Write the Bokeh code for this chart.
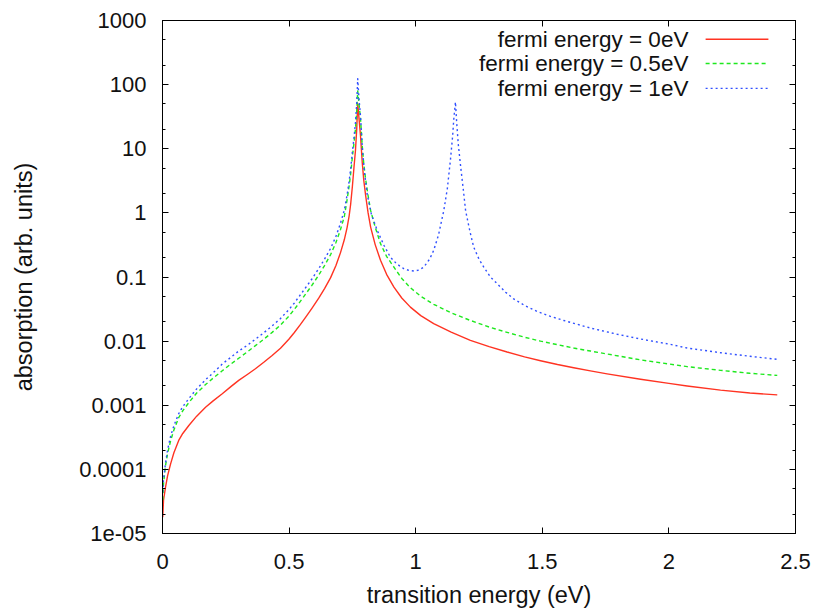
from bokeh.plotting import figure
from bokeh.models import Range1d, FixedTicker, LinearAxis, LogAxis, Label, Arrow
from bokeh.embed import file_html
from bokeh.resources import INLINE

# ---------------- data ----------------
x_ticks = [0, 0.5, 1, 1.5, 2, 2.5]
x_tick_labels = ["0", "0.5", "1", "1.5", "2", "2.5"]
y_ticks = [1e-05, 1e-04, 1e-03, 1e-02, 1e-01, 1, 10, 100, 1000]
y_tick_labels = ["1e-05", "0.0001", "0.001", "0.01", "0.1", "1", "10", "100", "1000"]
y_minor = [m * t for t in y_ticks[:-1] for m in (2, 5)]

legend_labels = ["fermi energy = 0eV", "fermi energy = 0.5eV", "fermi energy = 1eV"]

# rising branch (common x positions for all three curves)
x_rise = [0.001, 0.004, 0.012, 0.020, 0.032, 0.045, 0.064, 0.080, 0.104, 0.135,
          0.170, 0.200, 0.236, 0.270, 0.301, 0.335, 0.367, 0.400, 0.433, 0.466,
          0.499, 0.520, 0.545, 0.565, 0.590, 0.617, 0.640, 0.664, 0.685, 0.703,
          0.718, 0.729, 0.737, 0.743, 0.750, 0.756, 0.762, 0.767, 0.771]
y_rise_ef0 = [1.8e-05, 3.3e-05, 5.3e-05, 7.9e-05, 1.22e-04, 1.82e-04, 2.83e-04, 3.63e-04, 4.84e-04, 6.76e-04,
              9.33e-04, 1.17e-03, 1.51e-03, 1.95e-03, 2.44e-03, 3.02e-03, 3.71e-03, 4.68e-03, 5.98e-03, 7.76e-03,
              0.0107, 0.0135, 0.0182, 0.0234, 0.0324, 0.0468, 0.066, 0.0977, 0.151, 0.24,
              0.38, 0.59, 0.89, 1.35, 2.6, 5.0, 9.3, 20.0, 50.6]
y_rise_ef05 = [3.3e-05, 6.0e-05, 1.15e-04, 1.75e-04, 2.8e-04, 4.1e-04, 6.4e-04, 8.2e-04, 1.1e-03, 1.55e-03,
               2.1e-03, 2.65e-03, 3.45e-03, 4.4e-03, 5.4e-03, 6.8e-03, 8.5e-03, 0.0107, 0.0137, 0.0178,
               0.0245, 0.031, 0.042, 0.054, 0.074, 0.107, 0.151, 0.224, 0.345, 0.55,
               0.87, 1.6, 2.6, 4.0, 7.5, 12.0, 20.0, 38.0, 80.0]
y_rise_ef1 = [4.4e-05, 7.0e-05, 1.25e-04, 2.0e-04, 3.3e-04, 4.8e-04, 7.4e-04, 9.5e-04, 1.27e-03, 1.8e-03,
              2.5e-03, 3.2e-03, 4.4e-03, 5.6e-03, 7.0e-03, 8.6e-03, 0.0107, 0.0135, 0.0173, 0.0225,
              0.031, 0.039, 0.053, 0.068, 0.093, 0.135, 0.19, 0.28, 0.43, 0.69,
              1.1, 1.9, 3.1, 4.8, 9.0, 14.5, 25.0, 50.0, 124.0]

# falling branch, fermi energy = 0 eV and 0.5 eV
x_fall = [0.776, 0.782, 0.789, 0.795, 0.802, 0.812, 0.822, 0.840, 0.861, 0.885,
          0.914, 0.945, 0.979, 1.020, 1.071, 1.140, 1.216, 1.290, 1.361, 1.430,
          1.493, 1.560, 1.624, 1.690, 1.756, 1.888, 2.000, 2.072, 2.204, 2.320,
          2.428]
y_fall_ef0 = [30.0, 16.0, 6.0, 3.2, 1.9, 1.0, 0.60, 0.32, 0.182, 0.11,
              0.0695, 0.047, 0.0339, 0.025, 0.0187, 0.0138, 0.0103, 8.2e-03, 6.76e-03, 5.69e-03,
              4.95e-03, 4.32e-03, 3.85e-03, 3.43e-03, 3.09e-03, 2.54e-03, 2.19e-03, 2.0e-03, 1.72e-03, 1.55e-03,
              1.45e-03]
y_fall_ef05 = [50.0, 30.0, 11.0, 5.8, 3.4, 1.85, 1.09, 0.60, 0.331, 0.21,
               0.1425, 0.095, 0.068, 0.050, 0.0375, 0.0277, 0.0210, 0.0166, 0.0137, 0.0115,
               0.0100, 8.8e-03, 7.8e-03, 7.0e-03, 6.3e-03, 5.1e-03, 4.4e-03, 4.0e-03, 3.5e-03, 3.15e-03,
               2.92e-03]

# fermi energy = 1 eV: dip and second peak
x_fall_ef1 = [0.776, 0.782, 0.790, 0.798, 0.808, 0.825, 0.848, 0.875, 0.900, 0.925,
              0.953, 0.975, 0.993, 1.012, 1.032, 1.055, 1.071, 1.090, 1.111, 1.125,
              1.137, 1.146, 1.150, 1.157, 1.162, 1.168, 1.177, 1.187, 1.197, 1.207,
              1.216, 1.229, 1.250, 1.269, 1.295, 1.322, 1.355, 1.387, 1.430, 1.480,
              1.530, 1.585, 1.690, 1.796, 1.888, 2.000, 2.072, 2.204, 2.320, 2.428]
y_fall_ef1 = [60.0, 32.0, 9.0, 4.2, 1.99, 0.95, 0.533, 0.31, 0.204, 0.16,
              0.135, 0.126, 0.124, 0.128, 0.1425, 0.19, 0.26, 0.45, 1.09, 2.4,
              6.6, 16.0, 27.7, 53.6, 25.0, 12.0, 5.5, 2.5, 1.09, 0.70,
              0.479, 0.293, 0.19, 0.1425, 0.10, 0.0785, 0.058, 0.0455, 0.036, 0.0290,
              0.0245, 0.0210, 0.0160, 0.0128, 0.0108, 9.0e-03, 7.8e-03, 6.6e-03, 5.8e-03, 5.2e-03]

# ---------------- styling ----------------
FONT = "Liberation Sans"
TICK_FS = "22px"
LABEL_FS = "23.5px"
LEG_FS = "22.5px"
TXT = "#111111"
colors = ["#ff3322", "#1ee81e", "#3050ff"]
dashes = ["solid", "4 3", "2 3"]

p = figure(width=816, height=610, y_axis_type="log",
           x_range=Range1d(0, 2.5), y_range=Range1d(1e-05, 1000),
           output_backend="svg", toolbar_location=None,
           min_border_left=162, min_border_right=21,
           min_border_top=20, min_border_bottom=77)
p.background_fill_color = "white"
p.border_fill_color = "white"
p.outline_line_color = "black"
p.outline_line_width = 1
p.xgrid.visible = False
p.ygrid.visible = False

series = [
    (x_rise + x_fall, y_rise_ef0 + y_fall_ef0),
    (x_rise + x_fall, y_rise_ef05 + y_fall_ef05),
    (x_rise + x_fall_ef1, y_rise_ef1 + y_fall_ef1),
]
for (xs, ys), c, d in zip(series, colors, dashes):
    p.line(xs, ys, line_color=c, line_width=1.4, line_dash=d, line_join="round")

def style_axis(ax, labels=True):
    ax.axis_line_color = "black"
    ax.major_tick_line_color = "black"
    ax.minor_tick_line_color = "black"
    ax.major_tick_in = 6
    ax.major_tick_out = 0
    ax.minor_tick_in = 3
    ax.minor_tick_out = 0
    ax.major_label_text_font = FONT
    ax.major_label_text_color = TXT
    ax.axis_label_text_font = FONT
    ax.axis_label_text_font_style = "normal"
    ax.axis_label_text_font_size = LABEL_FS
    ax.axis_label_text_color = TXT
    if labels:
        ax.major_label_text_font_size = TICK_FS
    else:
        ax.major_label_text_font_size = "1px"
        ax.major_label_standoff = 0

xa = p.xaxis[0]
xa.ticker = FixedTicker(ticks=x_ticks, minor_ticks=[])
xa.major_label_overrides = {t: l for t, l in zip(x_ticks, x_tick_labels)}
xa.axis_label = "transition energy (eV)"
style_axis(xa)
xa.major_label_standoff = 20
xa.axis_label_standoff = 10

ya = p.yaxis[0]
ya.ticker = FixedTicker(ticks=y_ticks, minor_ticks=y_minor)
ya.major_label_overrides = {t: l for t, l in zip(y_ticks, y_tick_labels)}
ya.axis_label = "absorption (arb. units)"
style_axis(ya)
ya.major_label_standoff = 16
ya.axis_label_standoff = 39

top = LinearAxis(ticker=FixedTicker(ticks=x_ticks, minor_ticks=[]))
style_axis(top, labels=False)
top.major_label_overrides = {t: "" for t in x_ticks}
p.add_layout(top, "above")
right = LogAxis(ticker=FixedTicker(ticks=y_ticks, minor_ticks=y_minor))
style_axis(right, labels=False)
right.major_label_overrides = {t: "" for t in y_ticks}
p.add_layout(right, "right")

# ---------------- legend (gnuplot style: text right, sample on right) ----------------
leg_text_x = 2.077
leg_x0, leg_x1 = 2.145, 2.393
leg_rows = [509.0, 213.0, 87.5]
for lab, c, d, yy in zip(legend_labels, colors, dashes, leg_rows):
    p.add_layout(Label(x=leg_text_x, y=yy, text=lab, text_align="right",
                       text_baseline="middle", text_font=FONT, text_font_size=LEG_FS,
                       text_color=TXT))
    p.add_layout(Arrow(end=None, x_start=leg_x0, y_start=yy, x_end=leg_x1, y_end=yy,
                       line_color=c, line_width=1.4, line_dash=d))

open("out.html", "w").write(file_html(p, INLINE))
